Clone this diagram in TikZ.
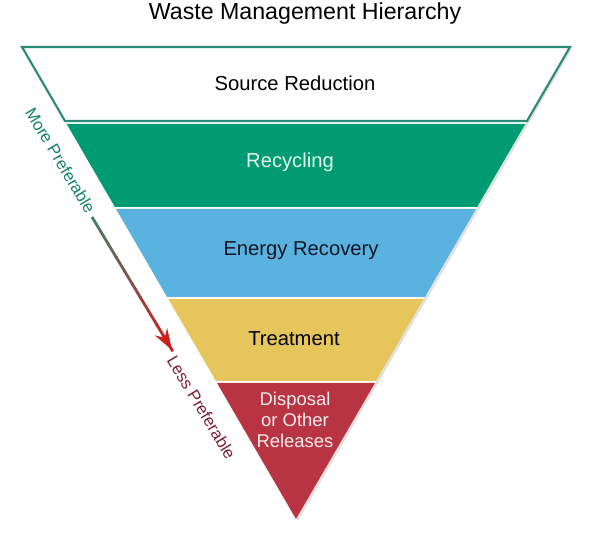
\documentclass[tikz,border=0pt]{standalone}
\usepackage{fontspec}
\setmainfont{Liberation Sans}
\usetikzlibrary{arrows.meta, calc}
\definecolor{TealLine}{RGB}{42,138,118}
\definecolor{RecycleGreen}{RGB}{0,155,114}
\definecolor{RecycleText}{RGB}{225,245,235}
\definecolor{EnergyBlue}{RGB}{90,178,222}
\definecolor{TreatYellow}{RGB}{230,198,92}
\definecolor{DisposeRed}{RGB}{184,52,66}
\definecolor{MoreTeal}{RGB}{20,128,108}
\definecolor{LessRed}{RGB}{125,30,50}
\definecolor{ArrowStart}{RGB}{70,125,105}
\definecolor{ArrowEnd}{RGB}{205,30,30}

\begin{document}
\begin{tikzpicture}[
    x=0.02cm, y=0.02cm,
    bandtext/.style={font=\fontsize{11.5}{13}\selectfont, align=center},
    sidetext/.style={font=\fontsize{9.5}{11}\selectfont, rotate=-59},
]
\useasboundingbox (0,0) rectangle (600,544);

% --- titulo ---
\node[font=\fontsize{13.2}{15}\selectfont] (title) at (305,530) {Waste Management Hierarchy};

% --- triangulo invertido: sombra y fondo ---
\fill[black!12] (24,495) -- (572,495) -- (298,23) -- cycle;
\fill[white] (22,497) -- (570,497) -- (296,25) -- cycle;

% --- franjas ---
\filldraw[fill=white, draw=TealLine, line width=1.2pt]
    (22,497) -- (570,497) -- (527,423) -- (65,423) -- cycle;
\fill[RecycleGreen] (66.7,420) -- (525.3,420) -- (477.1,337) -- (114.9,337) -- cycle;
\fill[EnergyBlue]   (116,335) -- (476,335) -- (424.9,247) -- (167.1,247) -- cycle;
\fill[TreatYellow]  (168.3,245) -- (423.7,245) -- (376.1,163) -- (215.9,163) -- cycle;
\fill[DisposeRed]   (217,161) -- (375,161) -- (296,25) -- cycle;

% --- textos de las franjas ---
\node[bandtext] (source) at (295,461) {Source Reduction};
\node[bandtext, text=RecycleText] (recycling) at (290,382) {Recycling};
\node[bandtext, text={rgb,255:red,20;green,20;blue,40}] (energy) at (301,293) {Energy Recovery};
\node[bandtext] (treatment) at (294,205) {Treatment};
\node[bandtext, font=\fontsize{10.5}{12}\selectfont, text={rgb,255:red,252;green,236;blue,236}]
    (disposal) at (295,124) {Disposal\\or Other\\Releases};

% --- preferencia ---
\node[sidetext, text=MoreTeal] (more) at (60.5,383.5) {More Preferable};
\node[sidetext, text=LessRed] (less) at (201.5,136.5) {Less Preferable};

\coordinate (arrs) at (92,327);
\coordinate (arre) at (172,194);
\foreach \i in {0,...,9}{
    \pgfmathsetmacro\pct{\i*11}
    \draw[line width=1.6pt, ArrowEnd!\pct!ArrowStart]
        ($(arrs)!\i/10!(arre)$) -- ($(arrs)!{(\i+1)/10+0.01}!(arre)$);
}
\draw[-{Stealth[length=12pt, width=8pt]}, line width=1.6pt, ArrowEnd]
    ($(arrs)!0.9!(arre)$) -- (arre);

\end{tikzpicture}
\end{document}
